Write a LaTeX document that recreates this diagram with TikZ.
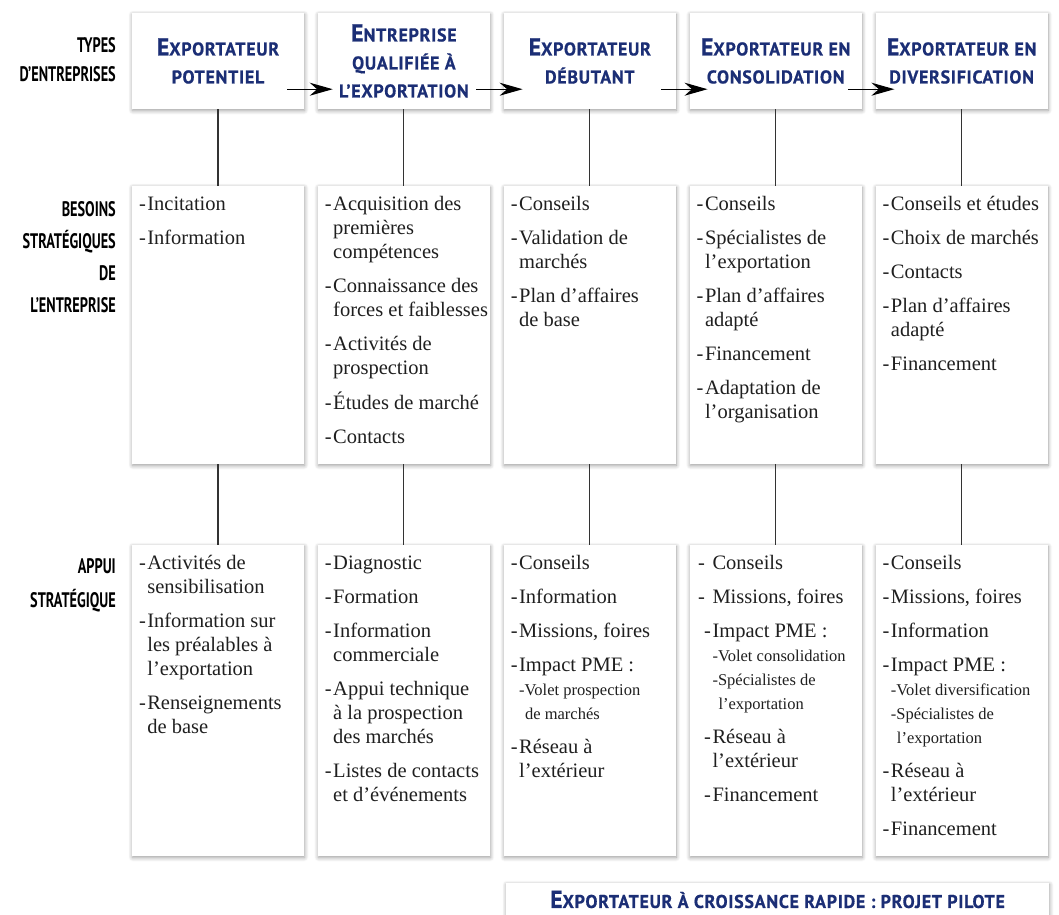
\documentclass[tikz,border=0pt]{standalone}
\usepackage{fontspec}
\setmainfont{Liberation Serif}
\newfontfamily\headfont[FakeStretch=0.97,LetterSpace=4,BoldFeatures={FakeBold=0.6}]{PT Sans}
\newfontfamily\rowfont[FakeStretch=0.68]{PT Sans}
\usetikzlibrary{positioning,arrows.meta,shadows.blur}
\definecolor{navy}{RGB}{27,46,117}
\newcommand{\hd}[2]{{\fontsize{24.5}{28}\selectfont #1}#2}
\newcommand{\sub}[1]{{\fontsize{16.5}{24}\selectfont #1}}
\tikzset{
  card/.style={fill=white, inner sep=0pt, minimum width=172pt,
    blur shadow={shadow blur steps=6, shadow xshift=0.5pt, shadow yshift=-1.5pt,
      shadow blur radius=4pt, shadow opacity=40}},
  typebox/.style={card, minimum height=96pt, align=center, text=navy,
    font=\headfont\bfseries\fontsize{18.5}{28}\selectfont},
  needbox/.style={card, minimum height=278pt},
  helpbox/.style={card, minimum height=311pt},
  items/.style={anchor=north west, inner sep=0pt, text=black!88,
    font=\fontsize{20.5}{24}\selectfont},
  rowlabel/.style={anchor=east, align=right, inner sep=0pt,
    font=\rowfont\bfseries\fontsize{21}{32}\selectfont},
  link/.style={line width=1.1pt, black!80},
  flow/.style={line width=1.2pt, -{Stealth[length=23pt,width=13pt]}}
}

\begin{document}
\begin{tikzpicture}[x=1pt, y=-1pt]
		%%%%% START %%%%%
		\useasboundingbox (0,0) rectangle (1059,914);
		
		% row labels
		\node[rowlabel, font=\rowfont\bfseries\fontsize{21}{29}\selectfont] (types) at (116,60) {TYPES\\D’ENTREPRISES};
		\node[rowlabel] (needs) at (116,257) {BESOINS\\STRATÉGIQUES\\DE\\L’ENTREPRISE};
		\node[rowlabel, font=\rowfont\bfseries\fontsize{21}{34}\selectfont] (help) at (116,585) {APPUI\\STRATÉGIQUE};
		
		% types d'entreprises
		\node[typebox] (t1) at (218,61) {\hd{E}{XPORTATEUR}\\POTENTIEL};
		\node[typebox] (t2) at (403.9,61) {\hd{E}{NTREPRISE}\\QUALIFIÉE À\\L’EXPORTATION};
		\node[typebox] (t3) at (589.8,61) {\hd{E}{XPORTATEUR}\\DÉBUTANT};
		\node[typebox] (t4) at (775.7,61) {\hd{E}{XPORTATEUR EN}\\CONSOLIDATION};
		\node[typebox] (t5) at (961.6,61) {\hd{E}{XPORTATEUR EN}\\DIVERSIFICATION};
		
		% besoins
		\node[needbox] (m1) at (218,325) {};
		\node[needbox] (m2) at (403.9,325) {};
		\node[needbox] (m3) at (589.8,325) {};
		\node[needbox] (m4) at (775.7,325) {};
		\node[needbox] (m5) at (961.6,325) {};
		
		% appui
		\node[helpbox] (b1) at (218,700.5) {};
		\node[helpbox] (b2) at (403.9,700.5) {};
		\node[helpbox] (b3) at (589.8,700.5) {};
		\node[helpbox] (b4) at (775.7,700.5) {};
		\node[helpbox] (b5) at (961.6,700.5) {};
		
		\node[card, minimum width=543pt, minimum height=33pt, text=navy,
		  font=\headfont\bfseries\fontsize{18.5}{28}\selectfont] (fast) at (777.5,899.5)
		  {\hd{E}{XPORTATEUR\ À\ CROISSANCE\ RAPIDE\ :\ PROJET\ PILOTE}};
		
		\draw[link] (t1) -- (m1);
		\draw[link] (t2) -- (m2);
		\draw[link] (t3) -- (m3);
		\draw[link] (t4) -- (m4);
		\draw[link] (t5) -- (m5);
		\draw[link] (m1) -- (b1);
		\draw[link] (m2) -- (b2);
		\draw[link] (m3) -- (b3);
		\draw[link] (m4) -- (b4);
		\draw[link] (m5) -- (b5);
		
		\draw[flow] ([xshift=-17pt,yshift=20pt]t1.south east) -- ([xshift=15pt,yshift=20pt]t2.south west);
		\draw[flow] ([xshift=-14pt,yshift=20pt]t2.south east) -- ([xshift=19pt,yshift=20pt]t3.south west);
		\draw[flow] ([xshift=-15pt,yshift=20pt]t3.south east) -- ([xshift=18pt,yshift=20pt]t4.south west);
		\draw[flow] ([xshift=-14pt,yshift=20pt]t4.south east) -- ([xshift=19pt,yshift=20pt]t5.south west);
		
		% listes
		\node[items] (m1list) at ([xshift=7pt,yshift=-8pt]m1.north west) {\begin{tabular}{@{}l@{\hspace{1.5pt}}l@{}}
		-&Incitation\\[10pt]
		-&Information
		\end{tabular}};
		\node[items] (m2list) at ([xshift=7pt,yshift=-8pt]m2.north west) {\begin{tabular}{@{}l@{\hspace{1.5pt}}l@{}}
		-&Acquisition des\\ &premières\\ &compétences\\[10pt]
		-&Connaissance des\\ &forces et faiblesses\\[10pt]
		-&Activités de\\ &prospection\\[10pt]
		-&Études de marché\\[10pt]
		-&Contacts
		\end{tabular}};
		\node[items] (m3list) at ([xshift=7pt,yshift=-8pt]m3.north west) {\begin{tabular}{@{}l@{\hspace{1.5pt}}l@{}}
		-&Conseils\\[10pt]
		-&Validation de\\ &marchés\\[10pt]
		-&Plan d’affaires\\ &de base
		\end{tabular}};
		\node[items] (m4list) at ([xshift=7pt,yshift=-8pt]m4.north west) {\begin{tabular}{@{}l@{\hspace{1.5pt}}l@{}}
		-&Conseils\\[10pt]
		-&Spécialistes de\\ &l’exportation\\[10pt]
		-&Plan d’affaires\\ &adapté\\[10pt]
		-&Financement\\[10pt]
		-&Adaptation de\\ &l’organisation
		\end{tabular}};
		\node[items] (m5list) at ([xshift=7pt,yshift=-8pt]m5.north west) {\begin{tabular}{@{}l@{\hspace{1.5pt}}l@{}}
		-&Conseils et études\\[10pt]
		-&Choix de marchés\\[10pt]
		-&Contacts\\[10pt]
		-&Plan d’affaires\\ &adapté\\[10pt]
		-&Financement
		\end{tabular}};
		
		\node[items] (b1list) at ([xshift=7pt,yshift=-8pt]b1.north west) {\begin{tabular}{@{}l@{\hspace{1.5pt}}l@{}}
		-&Activités de\\ &sensibilisation\\[10pt]
		-&Information sur\\ &les préalables à\\ &l’exportation\\[10pt]
		-&Renseignements\\ &de base
		\end{tabular}};
		\node[items] (b2list) at ([xshift=7pt,yshift=-8pt]b2.north west) {\begin{tabular}{@{}l@{\hspace{1.5pt}}l@{}}
		-&Diagnostic\\[10pt]
		-&Formation\\[10pt]
		-&Information\\ &commerciale\\[10pt]
		-&Appui technique\\ &à la prospection\\ &des marchés\\[10pt]
		-&Listes de contacts\\ &et d’événements
		\end{tabular}};
		\node[items] (b3list) at ([xshift=7pt,yshift=-8pt]b3.north west) {\begin{tabular}{@{}l@{\hspace{1.5pt}}l@{}}
		-&Conseils\\[10pt]
		-&Information\\[10pt]
		-&Missions, foires\\[10pt]
		-&Impact PME :\\ &\sub{-Volet prospection}\\ &\sub{\hspace{6pt}de marchés}\\[10pt]
		-&Réseau à\\ &l’extérieur
		\end{tabular}};
		\node[items] (b4list) at ([xshift=14.5pt,yshift=-8pt]b4.north west) {\begin{tabular}{@{}l@{\hspace{1.5pt}}l@{}}
		\hspace*{-6pt}-&Conseils\\[10pt]
		\hspace*{-6pt}-&Missions, foires\\[10pt]
		-&Impact PME :\\ &\sub{-Volet consolidation}\\ &\sub{-Spécialistes de}\\ &\sub{\hspace{6pt}l’exportation}\\[10pt]
		-&Réseau à\\ &l’extérieur\\[10pt]
		-&Financement
		\end{tabular}};
		\node[items] (b5list) at ([xshift=7pt,yshift=-8pt]b5.north west) {\begin{tabular}{@{}l@{\hspace{1.5pt}}l@{}}
		-&Conseils\\[10pt]
		-&Missions, foires\\[10pt]
		-&Information\\[10pt]
		-&Impact PME :\\ &\sub{-Volet diversification}\\ &\sub{-Spécialistes de}\\ &\sub{\hspace{6pt}l’exportation}\\[10pt]
		-&Réseau à\\ &l’extérieur\\[10pt]
		-&Financement
		\end{tabular}};
		
		%%%%% END %%%%%
\end{tikzpicture}
\end{document}
